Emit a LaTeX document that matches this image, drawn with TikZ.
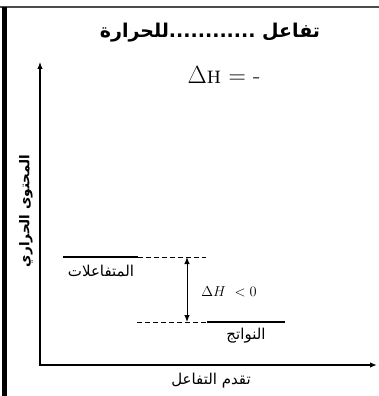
\documentclass[tikz,border=0pt]{standalone}
\usepackage{fontspec}
\usetikzlibrary{arrows.meta}
\newfontfamily\arabicfont[Script=Arabic]{DejaVu Sans}
\TeXXeTstate=1

\begin{document}
\begin{tikzpicture}[x=1pt, y=-1pt, every node/.style={inner sep=1pt},
  level/.style={line width=1.4pt},
  guide/.style={line width=0.8pt, dash pattern=on 4.5pt off 3.5pt},
  headtip/.tip={Latex[length=7pt,width=5.5pt]},
  lbl/.style={font=\arabicfont\fontsize{15}{18}\selectfont}]
  \useasboundingbox (0,0) rectangle (379,396);
  \draw[gray!60!black, line width=1.5pt] (0,7) -- (379,7);
  \fill[black] (2,7) rectangle (7,396);
  % heading
  \node[font=\arabicfont\bfseries\fontsize{19}{22}\selectfont] (title) at (210,33) {\beginR تفاعل ............للحرارة\endR};
  \node[font=\fontsize{24}{28}\selectfont] (sign) at (224,75) {$\Delta$\textsc{h} = -};
  % axes
  \coordinate (o) at (40,365);
  \coordinate (ytop) at (40,62);
  \coordinate (xend) at (377,365);
  \draw[-headtip, line width=1.1pt] (o) -- (ytop);
  \draw[-headtip, line width=1.5pt] ([xshift=-0.7pt]o) -- (xend);
  \node[rotate=90, font=\arabicfont\bfseries\fontsize{13.5}{16}\selectfont] (ylab) at (26,211) {\beginR المحتوى الحراري\endR};
  \node[lbl] (xlab) at (211,381) {\beginR تقدم التفاعل\endR};
  % enthalpy levels
  \coordinate (r1) at (63,257);
  \coordinate (r2) at (138,257);
  \coordinate (r3) at (206,257);
  \coordinate (p1) at (137,322);
  \coordinate (p2) at (207,322);
  \coordinate (p3) at (285,322);
  \draw[level] (r1) -- (r2);
  \draw[guide] (r2) -- (r3);
  \draw[guide] (p1) -- (p2);
  \draw[level] (p2) -- (p3);
  \node[lbl] (react) at (101,271) {\beginR المتفاعلات\endR};
  \node[lbl] (prod) at (246,336) {\beginR النواتج\endR};
  % delta H
  \coordinate (dtop) at (187,257);
  \coordinate (dbot) at (187,322);
  \draw[headtip-headtip, line width=1pt] (dtop) -- (dbot);
  \node[font=\fontsize{14.5}{17}\selectfont] (dh) at (229,292) {$\Delta H\ < 0$};
\end{tikzpicture}
\end{document}
